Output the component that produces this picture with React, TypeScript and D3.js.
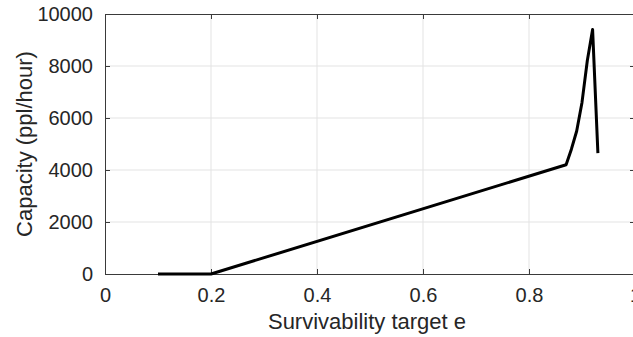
import React, { useEffect, useRef } from 'react';
import * as d3 from 'd3';

// survivability target e vs capacity
const targetE = [0.1, 0.2, 0.87, 0.88, 0.89, 0.9, 0.91, 0.92, 0.93];
const capacity = [0, 0, 4200, 4800, 5500, 6600, 8200, 9400, 4650];

const xTicks = [0, 0.2, 0.4, 0.6, 0.8, 1];
const yTicks = [0, 2000, 4000, 6000, 8000, 10000];

const dims = {
  width: 633,
  height: 337,
  left: 105,
  right: 635,
  top: 14,
  bottom: 274
};

const axisColor = '#3a3a3a';
const textColor = '#262626';
const fontFamily = '"Liberation Sans", Arial, Helvetica, sans-serif';

export default function App() {
  const svgRef = useRef<SVGSVGElement>(null);

  useEffect(() => {
    const svg = d3.select(svgRef.current);
    svg.selectAll('*').remove();
    const { left, right, top, bottom } = dims;

    const x = d3.scaleLinear().domain([0, 1]).range([left, right]);
    const y = d3.scaleLinear().domain([0, 10000]).range([bottom, top]);

    // grid
    const grid = svg.append('g');
    grid.selectAll('line.gx')
      .data(xTicks.filter(t => t > 0 && t < 1))
      .enter()
      .append('line')
      .attr('x1', d => x(d)).attr('x2', d => x(d))
      .attr('y1', top).attr('y2', bottom)
      .attr('stroke', '#e3e3e3')
      .attr('stroke-width', 1);
    grid.selectAll('line.gy')
      .data(yTicks.filter(t => t > 0 && t < 10000))
      .enter()
      .append('line')
      .attr('x1', left).attr('x2', right)
      .attr('y1', d => y(d)).attr('y2', d => y(d))
      .attr('stroke', '#e3e3e3')
      .attr('stroke-width', 1);

    const styleAxis = (g: any, withText: boolean) => {
      g.selectAll('path, line').attr('stroke', axisColor).attr('stroke-width', 1);
      if (withText) {
        g.selectAll('text')
          .attr('fill', textColor)
          .attr('font-size', '20px')
          .attr('font-family', fontFamily);
      } else {
        g.selectAll('text').remove();
      }
    };

    // box with inward ticks
    svg.append('g')
      .attr('transform', `translate(0, ${bottom})`)
      .call(d3.axisBottom(x).tickValues(xTicks).tickSizeInner(-5).tickSizeOuter(0).tickPadding(14).tickFormat(d3.format('~g')) as any)
      .call((g: any) => styleAxis(g, true));
    svg.append('g')
      .attr('transform', `translate(0, ${top})`)
      .call(d3.axisTop(x).tickValues(xTicks).tickSizeInner(-5).tickSizeOuter(0) as any)
      .call((g: any) => styleAxis(g, false));
    svg.append('g')
      .attr('transform', `translate(${left}, 0)`)
      .call(d3.axisLeft(y).tickValues(yTicks).tickSizeInner(-5).tickSizeOuter(0).tickPadding(12).tickFormat(d3.format('d')) as any)
      .call((g: any) => styleAxis(g, true));
    svg.append('g')
      .attr('transform', `translate(${right}, 0)`)
      .call(d3.axisRight(y).tickValues(yTicks).tickSizeInner(-5).tickSizeOuter(0) as any)
      .call((g: any) => styleAxis(g, false));

    // data line
    const pts = targetE.map((e, i) => [e, capacity[i]] as [number, number]);
    svg.append('path')
      .datum(pts)
      .attr('fill', 'none')
      .attr('stroke', '#000')
      .attr('stroke-width', 3)
      .attr('stroke-linejoin', 'round')
      .attr('d', d3.line<[number, number]>().x(d => x(d[0])).y(d => y(d[1])));

    // axis labels
    svg.append('text')
      .attr('x', (left + right) / 2 - 3)
      .attr('y', 329)
      .attr('text-anchor', 'middle')
      .attr('font-size', '22px')
      .attr('font-family', fontFamily)
      .attr('fill', textColor)
      .text('Survivability target e');
    svg.append('text')
      .attr('transform', `translate(32, ${(top + bottom) / 2}) rotate(-90)`)
      .attr('text-anchor', 'middle')
      .attr('font-size', '22px')
      .attr('font-family', fontFamily)
      .attr('fill', textColor)
      .text('Capacity (ppl/hour)');
  }, []);

  return (
    <svg
      ref={svgRef}
      width={dims.width}
      height={dims.height}
      style={{ position: 'absolute', left: 0, top: 0, background: '#fff' }}
    />
  );
}
